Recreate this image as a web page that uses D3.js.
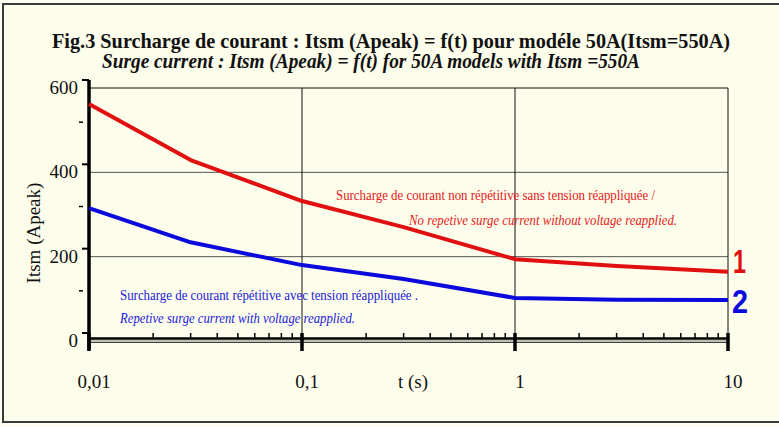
<!DOCTYPE html>
<html>
<head>
  <meta charset="UTF-8">
  <style>
    body {
      margin: 0;
      padding: 0;
      background-color: #fdfdf2;
    }
  </style>
</head>
<body>
<svg id="chart"></svg>
<script src="https://d3js.org/d3.v7.min.js"></script>
<script>
let width = 779, height = 427;
let serif = "'Liberation Serif', 'Times New Roman', serif";
let sans = "'Liberation Sans', Arial, sans-serif";

// data
let times = [0.01, 0.03, 0.1, 0.3, 1, 3, 10];
let nonRepetitive = [562, 429, 332, 270, 194, 178, 164];   // curve 1 (red)
let repetitive = [315, 234, 180, 147, 102, 98, 97];        // curve 2 (blue)
let yTicks = [0, 200, 400, 600];
let yMinorTicks = [100, 300, 500];
let xTicks = [0.01, 0.1, 1, 10];
let xTickLabels = ["0,01", "0,1", "1", "10"];

let title = "Fig.3  Surcharge de courant : Itsm (Apeak) = f(t) pour modéle 50A(Itsm=550A)";
let subtitle = "Surge current  : Itsm (Apeak) = f(t)  for 50A models with Itsm =550A";
let redNote = ["Surcharge de courant non répétitive sans tension réappliquée /",
               "No repetive surge current without voltage reapplied."];
let blueNote = ["Surcharge de courant répétitive avec tension réappliquée .",
                "Repetive surge current with voltage reapplied."];

let svg = d3.select("#chart")
    .attr("width", width)
    .attr("height", height);

// frame
svg.append("rect")
    .attr("x", 0).attr("y", 0)
    .attr("width", width).attr("height", height)
    .attr("fill", "#fdfdf2");
svg.append("rect")
    .attr("x", 3).attr("y", 4)
    .attr("width", 800).attr("height", 418)
    .attr("fill", "#fdfdeb")
    .attr("stroke", "#3a3a3a")
    .attr("stroke-width", 2);

let x = d3.scaleLog().domain([0.01, 10]).range([89, 728]);
let y = d3.scaleLinear().domain([0, 600]).range([341, 88]);

// titles
svg.append("text")
    .attr("x", 52).attr("y", 48)
    .attr("font-family", serif)
    .attr("font-size", 22)
    .attr("font-weight", "bold")
    .attr("textLength", 678)
    .attr("lengthAdjust", "spacingAndGlyphs")
    .attr("fill", "#111")
    .text(title);
svg.append("text")
    .attr("x", 102).attr("y", 68)
    .attr("font-family", serif)
    .attr("font-size", 22)
    .attr("font-weight", "bold")
    .attr("font-style", "italic")
    .attr("textLength", 538)
    .attr("lengthAdjust", "spacingAndGlyphs")
    .attr("fill", "#111")
    .text(subtitle);

// grid
let grid = svg.append("g");
grid.selectAll("line.h")
    .data([200, 400])
    .enter().append("line")
    .attr("x1", x(0.01)).attr("x2", x(10))
    .attr("y1", d => y(d)).attr("y2", d => y(d))
    .attr("stroke", "#555").attr("stroke-width", 1);
grid.append("line")
    .attr("x1", x(0.01)).attr("x2", x(10))
    .attr("y1", y(600)).attr("y2", y(600))
    .attr("stroke", "#111").attr("stroke-width", 1);
grid.selectAll("line.v")
    .data([0.1, 1, 10])
    .enter().append("line")
    .attr("x1", d => x(d)).attr("x2", d => x(d))
    .attr("y1", y(600)).attr("y2", y(0) - 3)
    .attr("stroke", "#111").attr("stroke-width", 1);

// x axis (double line)
let xa = svg.append("g");
xa.append("line")
    .attr("x1", x(0.01)).attr("x2", x(10))
    .attr("y1", y(0) - 2.5).attr("y2", y(0) - 2.5)
    .attr("stroke", "#000").attr("stroke-width", 2.5);
xa.append("line")
    .attr("x1", x(0.01)).attr("x2", x(10))
    .attr("y1", y(0)).attr("y2", y(0))
    .attr("stroke", "#a8a89c").attr("stroke-width", 1.5);
xa.append("line")
    .attr("x1", x(0.01)).attr("x2", x(10))
    .attr("y1", y(0) + 1.5).attr("y2", y(0) + 1.5)
    .attr("stroke", "#444").attr("stroke-width", 1);

let minor = [];
[0.01, 0.1, 1].forEach(d => {
    for (let k = 2; k <= 9; k++) minor.push(d * k);
});
xa.selectAll("line.minor")
    .data(minor)
    .enter().append("line")
    .attr("x1", d => x(d)).attr("x2", d => x(d))
    .attr("y1", y(0) - 8).attr("y2", y(0) - 3)
    .attr("stroke", "#000").attr("stroke-width", 1.5);
xa.selectAll("line.major")
    .data(xTicks)
    .enter().append("line")
    .attr("x1", d => x(d)).attr("x2", d => x(d))
    .attr("y1", y(0) - 8).attr("y2", y(0) + 10)
    .attr("stroke", "#000").attr("stroke-width", 3.5);
xa.selectAll("text")
    .data(xTicks)
    .enter().append("text")
    .attr("x", d => x(d) + 5)
    .attr("y", 388)
    .attr("text-anchor", "middle")
    .attr("font-family", serif)
    .attr("font-size", 19)
    .attr("fill", "#111")
    .text((d, i) => xTickLabels[i]);
svg.append("text")
    .attr("x", 413).attr("y", 388)
    .attr("text-anchor", "middle")
    .attr("font-family", serif)
    .attr("font-size", 19)
    .attr("fill", "#111")
    .text("t (s)");

// y axis
let ya = svg.append("g");
ya.append("line")
    .attr("x1", x(0.01)).attr("x2", x(0.01))
    .attr("y1", y(600) - 8).attr("y2", y(0) + 9)
    .attr("stroke", "#000").attr("stroke-width", 3.5);
ya.selectAll("line.major")
    .data(yTicks)
    .enter().append("line")
    .attr("x1", x(0.01) - 7).attr("x2", x(0.01))
    .attr("y1", d => y(d) - 8).attr("y2", d => y(d) - 8)
    .attr("stroke", "#000").attr("stroke-width", 2);
ya.selectAll("line.minor")
    .data(yMinorTicks)
    .enter().append("line")
    .attr("x1", x(0.01) - 10).attr("x2", x(0.01) - 6)
    .attr("y1", d => y(d) - 8).attr("y2", d => y(d) - 8)
    .attr("stroke", "#000").attr("stroke-width", 1.5);
ya.selectAll("text")
    .data(yTicks)
    .enter().append("text")
    .attr("x", 78)
    .attr("y", d => y(d) + 6)
    .attr("text-anchor", "end")
    .attr("font-family", serif)
    .attr("font-size", 19)
    .attr("fill", "#111")
    .text(d => d);
svg.append("text")
    .attr("transform", "translate(40,233) rotate(-90)")
    .attr("text-anchor", "middle")
    .attr("font-family", serif)
    .attr("font-size", 19)
    .attr("fill", "#111")
    .text("Itsm (Apeak)");

// curves
let line = d3.line()
    .x((d, i) => x(times[i]))
    .y(d => y(d));

svg.append("path")
    .datum(nonRepetitive)
    .attr("d", line)
    .attr("fill", "none")
    .attr("stroke", "#e01010")
    .attr("stroke-width", 4)
    .attr("stroke-linejoin", "round");
svg.append("path")
    .datum(repetitive)
    .attr("d", line)
    .attr("fill", "none")
    .attr("stroke", "#0a0adc")
    .attr("stroke-width", 4)
    .attr("stroke-linejoin", "round");

// curve numbers
svg.append("text")
    .attr("x", 733).attr("y", 273)
    .attr("font-family", sans)
    .attr("font-weight", "bold")
    .attr("font-size", 34)
    .attr("textLength", 13)
    .attr("lengthAdjust", "spacingAndGlyphs")
    .attr("fill", "#e01010")
    .text("1");
svg.append("text")
    .attr("x", 732).attr("y", 313)
    .attr("font-family", sans)
    .attr("font-weight", "bold")
    .attr("font-size", 34)
    .attr("textLength", 16)
    .attr("lengthAdjust", "spacingAndGlyphs")
    .attr("fill", "#0a0adc")
    .text("2");

// annotations
svg.append("text")
    .attr("x", 336).attr("y", 200)
    .attr("font-family", serif)
    .attr("font-size", 14)
    .attr("textLength", 319)
    .attr("lengthAdjust", "spacingAndGlyphs")
    .attr("fill", "#e62020")
    .text(redNote[0]);
svg.append("text")
    .attr("x", 409).attr("y", 225)
    .attr("font-family", serif)
    .attr("font-size", 14)
    .attr("font-style", "italic")
    .attr("textLength", 268)
    .attr("lengthAdjust", "spacingAndGlyphs")
    .attr("fill", "#e62020")
    .text(redNote[1]);
svg.append("text")
    .attr("x", 120).attr("y", 300)
    .attr("font-family", serif)
    .attr("font-size", 14)
    .attr("textLength", 298)
    .attr("lengthAdjust", "spacingAndGlyphs")
    .attr("fill", "#2020d8")
    .text(blueNote[0]);
svg.append("text")
    .attr("x", 120).attr("y", 323)
    .attr("font-family", serif)
    .attr("font-size", 14)
    .attr("font-style", "italic")
    .attr("textLength", 235)
    .attr("lengthAdjust", "spacingAndGlyphs")
    .attr("fill", "#2020d8")
    .text(blueNote[1]);
</script>
</body>
</html>
